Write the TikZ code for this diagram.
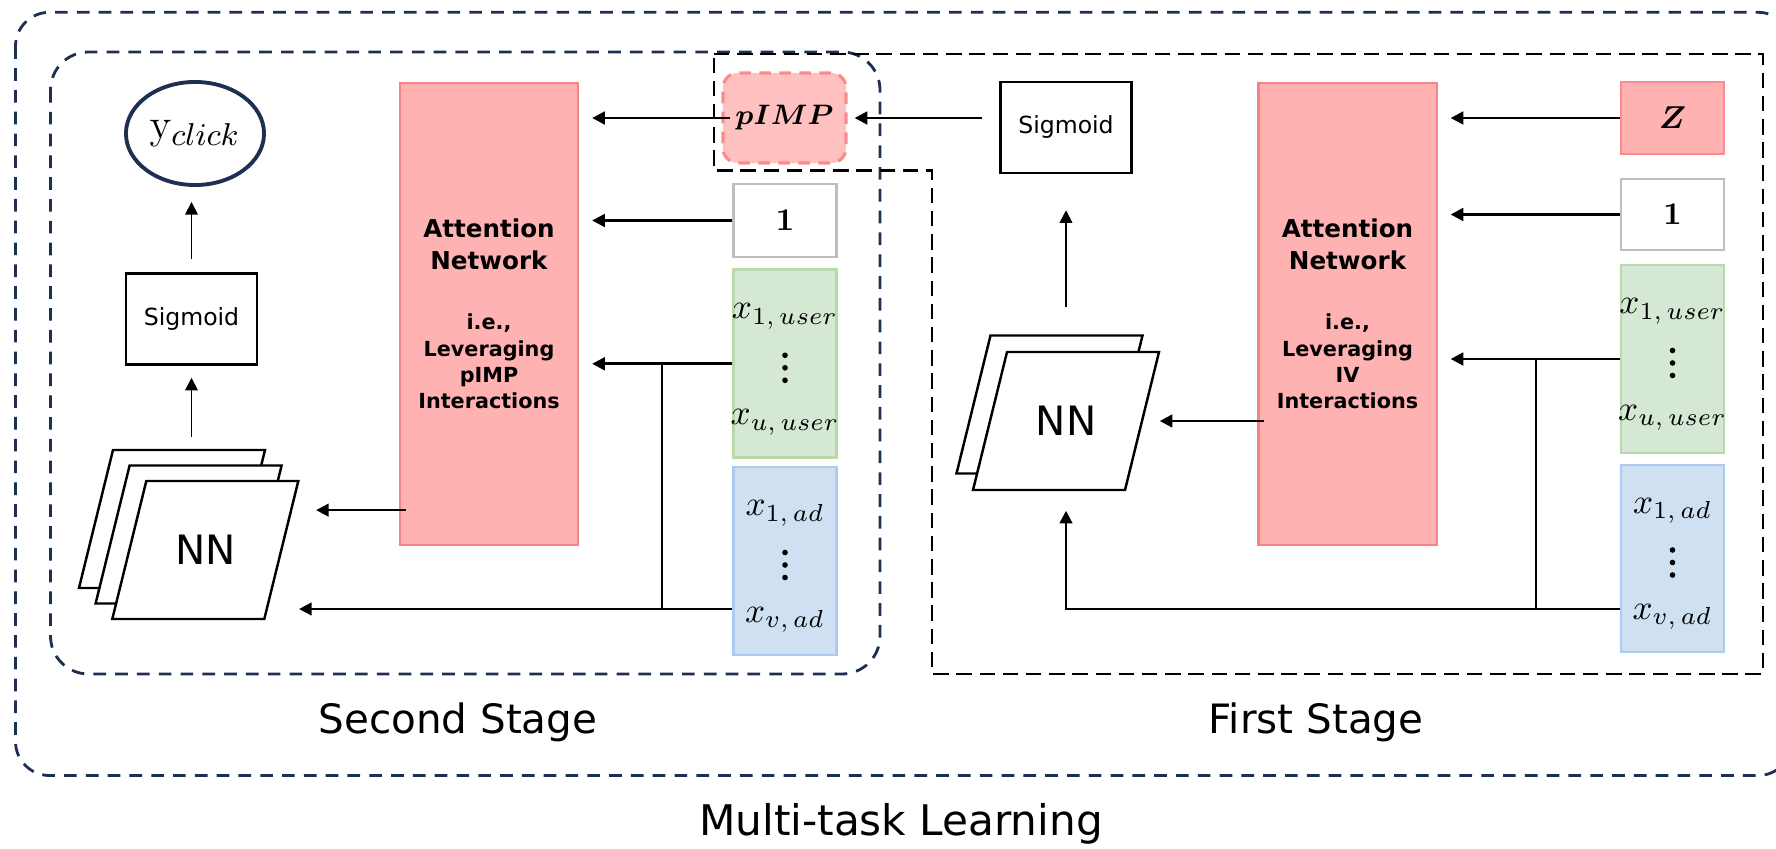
\documentclass[tikz,border=0pt]{standalone}
\usepackage{amsmath}
\usepackage[no-math]{fontspec}
\setmainfont{DejaVu Sans}
\usetikzlibrary{arrows.meta,shapes.geometric}

\definecolor{navy}{RGB}{30,48,82}
\definecolor{attfill}{RGB}{255,178,178}
\definecolor{attline}{RGB}{246,132,132}
\definecolor{zline}{RGB}{252,140,140}
\definecolor{pimpfill}{RGB}{255,192,192}
\definecolor{pimpline}{RGB}{250,140,140}
\definecolor{userfill}{RGB}{213,232,212}
\definecolor{userline}{RGB}{184,218,170}
\definecolor{adfill}{RGB}{207,224,243}
\definecolor{adline}{RGB}{172,203,240}
\definecolor{onegray}{RGB}{190,190,190}

\tikzset{
    stagebox/.style={navy, line width=0.8pt, dash pattern=on 3.6pt off 2.6pt, rounded corners=0.38cm},
    firstbox/.style={black, line width=0.6pt, dash pattern=on 4.4pt off 2.2pt},
    flow/.style={-{Triangle[length=3.6pt,width=3.6pt]}, line width=0.75pt},
    thinflow/.style={flow, line width=0.5pt},
    attbox/.style={draw=attline, fill=attfill, line width=0.6pt, minimum width=1.78cm, minimum height=4.62cm},
    sigbox/.style={draw, line width=0.7pt, minimum width=1.31cm, minimum height=0.91cm, font=\fontsize{6.7}{8}\selectfont},
    inbox/.style={minimum width=1.03cm, line width=0.8pt},
    featbox/.style={inbox, minimum height=1.88cm},
    feat/.style={anchor=base, inner sep=0pt, font=\fontsize{9.8}{11}\selectfont},
    layer/.style={draw, fill=white, line width=0.7pt},
    stagelabel/.style={anchor=base, font=\fontsize{11.5}{13}\selectfont},
}

% one sheet of the NN stack, given its top left corner
\newcommand{\nnlayer}[2]{\filldraw[layer] (#1,#2) ++(34,0) -- ++(152,0) -- ++(-34,138) -- ++(-152,0) -- cycle;}

\begin{document}
\begin{tikzpicture}[x=0.01cm, y=-0.01cm]
    \useasboundingbox (0,0) rectangle (1776,849);
    \clip (0,0) rectangle (1776,849);

    % frames
    \draw[stagebox, rounded corners=0.34cm] (15.5,12.3) rectangle (1792,775.5);
    \draw[stagebox] (50.5,52) rectangle (880,674);
    \draw[firstbox] (714,54) -- (1763,54) -- (1763,674) -- (932,674) -- (932,170.5) -- (714,170.5) -- cycle;

    % second stage
    \node[ellipse, draw=navy, line width=1.1pt, inner sep=0pt, minimum width=1.38cm, minimum height=1.03cm,
          font=\fontsize{12.5}{14}\selectfont] (yclick) at (195,133.5) {$\mathrm{y}_{click}$};
    \node[sigbox] (sigL) at (191.5,319) {Sigmoid};
    \foreach \px/\py in {79/450, 95.6/465.5, 112.3/481} \nnlayer{\px}{\py}
    \node[minimum width=1.86cm, minimum height=1.38cm, font=\fontsize{11.5}{13}\selectfont] (nnL) at (205.3,550) {NN};

    \node[attbox] (attL) at (489,314) {};
    \node[align=center, font=\bfseries\fontsize{7}{9.3}\selectfont] at ([yshift=0.697cm]attL.center) {Attention\\Network};
    \node[align=center, font=\bfseries\fontsize{5.9}{7.5}\selectfont] at ([yshift=-0.476cm]attL.center) {i.e.,\\Leveraging\\pIMP\\Interactions};

    \node[draw=pimpline, fill=pimpfill, line width=0.9pt, dash pattern=on 3.3pt off 2.4pt, rounded corners=0.15cm,
          minimum width=1.23cm, minimum height=0.9cm, font=\fontsize{7.8}{9}\selectfont] (pimp) at (784.5,118) {$\boldsymbol{pIMP}$};
    \node[inbox, draw=onegray, minimum height=0.73cm, font=\fontsize{9}{11}\selectfont] (oneL) at (785,220.5) {$\mathbf{1}$};
    \node[featbox, draw=userline, fill=userfill] (userL) at (785,363.8) {};
    \node[featbox, draw=adline, fill=adfill] (adL) at (785,561) {};

    % first stage
    \node[sigbox] (sigR) at (1066,127.5) {Sigmoid};
    \foreach \px/\py in {956.5/335.5, 973/352} \nnlayer{\px}{\py}
    \node[minimum width=1.86cm, minimum height=1.38cm, font=\fontsize{11.5}{13}\selectfont] (nnR) at (1066,421) {NN};

    \node[attbox] (attR) at (1347.5,314) {};
    \node[align=center, font=\bfseries\fontsize{7}{9.3}\selectfont] at ([yshift=0.697cm]attR.center) {Attention\\Network};
    \node[align=center, font=\bfseries\fontsize{5.9}{7.5}\selectfont] at ([yshift=-0.476cm]attR.center) {i.e.,\\Leveraging\\IV\\Interactions};

    \node[inbox, draw=zline, fill=attfill, line width=0.7pt, minimum height=0.72cm, font=\fontsize{9}{11}\selectfont] (zR) at (1672.5,118) {$\boldsymbol{Z}$};
    \node[inbox, draw=onegray, minimum height=0.71cm, font=\fontsize{9}{11}\selectfont] (oneR) at (1672.5,214.5) {$\mathbf{1}$};
    \node[featbox, draw=userline, fill=userfill] (userR) at (1672.5,359) {};
    \node[featbox, draw=adline, fill=adfill, minimum height=1.87cm] (adR) at (1672.5,558.5) {};

    % feature entries, with three dots between first and last
    \foreach \fb/\first/\last in {userL/{x_{1,\,user}}/{x_{u,\,user}}, adL/{x_{1,\,ad}}/{x_{v,\,ad}},
                                  userR/{x_{1,\,user}}/{x_{u,\,user}}, adR/{x_{1,\,ad}}/{x_{v,\,ad}}} {
        \node[feat] at ([yshift=0.45cm]\fb.center) {$\first$};
        \node[feat] at ([yshift=-0.61cm]\fb.center) {$\last$};
        \foreach \dy in {0.085, -0.04, -0.165}
            \fill ([yshift=\dy cm]\fb.center) circle (0.8pt);
    }

    % wires, second stage
    \coordinate (jL) at (662,609);
    \coordinate (attLout) at ([yshift=-1.96cm]attL.west);
    \draw[thinflow, shorten <=0.13cm, shorten >=0.15cm] (sigL.north) -- (sigL.north |- yclick.south);
    \draw[thinflow, shorten <=0.43cm, shorten >=0.12cm] (nnL.north -| sigL.south) -- (sigL.south);
    \draw[flow, shorten <=-0.09cm, shorten >=0.13cm] (pimp.west) -- (pimp.west -| attL.east);
    \draw[flow, shorten >=0.13cm] (oneL.west) -- (oneL.west -| attL.east);
    \draw[flow, shorten >=0.13cm] (userL.west) -- (userL.west -| attL.east);
    \draw[line width=0.5pt] (userL.west -| jL) -- (jL);
    \draw[flow] (jL -| adL.west) -- (jL -| nnL.east);
    \draw[flow, shorten <=-0.07cm, shorten >=0.17cm] (attLout) -- (attLout -| nnL.east);

    % wires, first stage
    \coordinate (jR) at (1536,609);
    \draw[flow, shorten >=0.13cm] (zR.west) -- (zR.west -| attR.east);
    \draw[flow, shorten >=0.13cm] (oneR.west) -- (oneR.west -| attR.east);
    \draw[flow, shorten >=0.13cm] (userR.west) -- (userR.west -| attR.east);
    \draw[line width=0.5pt] (userR.west -| jR) -- (jR);
    \draw[flow, shorten >=0.2cm] (jR -| adR.west) -| (nnR.south);
    \draw[flow, shorten <=-0.07cm] (attR.west |- nnR.east) -- (nnR.east);
    \draw[thinflow, shorten <=0.44cm, shorten >=0.36cm] (nnR.north) -- (nnR.north |- sigR.south);
    \draw[flow, shorten <=0.17cm, shorten >=0.07cm] (sigR.west |- pimp.east) -- (pimp.east);

    % captions
    \node[stagelabel] (second) at (458,733) {Second Stage};
    \node[stagelabel] (first) at (1316,733) {First Stage};
    \node[anchor=base, font=\fontsize{12}{14}\selectfont] (mtl) at (901,835) {Multi-task Learning};
\end{tikzpicture}
\end{document}
